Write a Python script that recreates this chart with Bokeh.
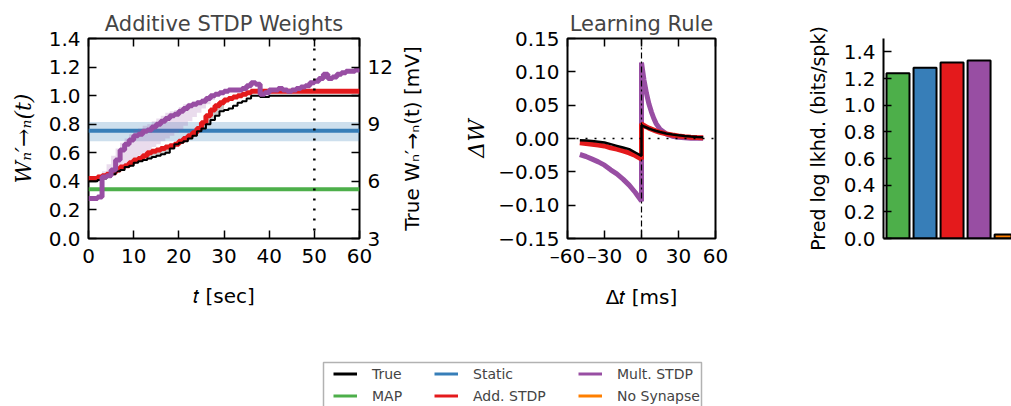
import math
from bokeh.plotting import figure
from bokeh.layouts import row, column
from bokeh.models import (Range1d, LinearAxis, FixedTicker, CustomJSTickFormatter,
                          NumeralTickFormatter, Legend, LegendItem, Span, BoxAnnotation, Title)
from bokeh.embed import file_html
from bokeh.resources import INLINE

# ---------------- data ----------------
# Left panel: weight traces over time (seconds)
t_sec = list(range(0, 61))
w_true = [0.40, 0.40, 0.41, 0.42, 0.43, 0.45, 0.47, 0.48, 0.50, 0.51,
          0.53, 0.54, 0.55, 0.56, 0.57, 0.58, 0.59, 0.60, 0.63, 0.66,
          0.67, 0.68, 0.70, 0.72, 0.75, 0.77, 0.80, 0.83, 0.86, 0.89,
          0.90, 0.91, 0.93, 0.95, 0.96, 0.98, 1.00, 1.00, 0.99, 0.99,
          1.00, 1.00, 1.00, 1.00, 1.00, 1.00, 1.00, 1.00, 1.00, 1.00,
          1.00, 1.00, 1.00, 1.00, 1.00, 1.00, 1.00, 1.00, 1.00, 1.00, 1.00]
w_add = [0.42, 0.42, 0.43, 0.44, 0.45, 0.46, 0.48, 0.50, 0.51, 0.53,
         0.55, 0.56, 0.58, 0.60, 0.61, 0.62, 0.63, 0.64, 0.65, 0.66,
         0.68, 0.70, 0.72, 0.74, 0.77, 0.81, 0.86, 0.90, 0.93, 0.95,
         0.97, 0.98, 0.99, 1.00, 1.01, 1.02, 1.03, 1.03, 1.03, 1.03,
         1.03, 1.03, 1.03, 1.03, 1.03, 1.03, 1.03, 1.03, 1.03, 1.03,
         1.03, 1.03, 1.03, 1.03, 1.03, 1.03, 1.03, 1.03, 1.03, 1.03, 1.03]
w_mult = [0.28, 0.28, 0.29, 0.43, 0.44, 0.48, 0.55, 0.62, 0.66, 0.69,
          0.72, 0.73, 0.75, 0.76, 0.78, 0.80, 0.82, 0.84, 0.86, 0.87,
          0.89, 0.91, 0.93, 0.94, 0.95, 0.96, 0.98, 1.00, 1.01, 1.02,
          1.03, 1.04, 1.04, 1.04, 1.05, 1.07, 1.09, 1.08, 1.01, 1.02,
          1.04, 1.04, 1.05, 1.04, 1.03, 1.04, 1.05, 1.06, 1.07, 1.09,
          1.10, 1.12, 1.15, 1.12, 1.13, 1.15, 1.16, 1.17, 1.17, 1.18, 1.19]
# posterior bands
t_band_mult = list(range(2, 29))
mult_lo = [0.40, 0.42, 0.44, 0.46, 0.48, 0.50, 0.52, 0.54, 0.56, 0.58,
           0.60, 0.62, 0.64, 0.66, 0.68, 0.70, 0.72, 0.74, 0.76, 0.79,
           0.82, 0.85, 0.88, 0.91, 0.94, 0.97, 1.00]
mult_hi = [0.45, 0.47, 0.52, 0.58, 0.63, 0.67, 0.70, 0.73, 0.76, 0.77,
           0.79, 0.80, 0.82, 0.84, 0.86, 0.88, 0.89, 0.90, 0.92, 0.94,
           0.95, 0.96, 0.97, 0.98, 1.00, 1.01, 1.02]
t_band_add = list(range(12, 31))
add_lo = [0.55, 0.56, 0.57, 0.58, 0.59, 0.60, 0.63, 0.66, 0.67, 0.68,
          0.70, 0.72, 0.75, 0.77, 0.80, 0.83, 0.86, 0.89, 0.90]
add_hi = [0.58, 0.60, 0.61, 0.62, 0.63, 0.64, 0.65, 0.66, 0.68, 0.70,
          0.72, 0.74, 0.77, 0.81, 0.86, 0.90, 0.93, 0.95, 0.97]
t_static = [0, 60]
w_static = [0.755, 0.755]
static_lo = [0.68, 0.68]
static_hi = [0.815, 0.815]
w_map = [0.345, 0.345]
t_train_end = 50

t_ticks = [0, 10, 20, 30, 40, 50, 60]
w_ticks = [0.0, 0.2, 0.4, 0.6, 0.8, 1.0, 1.2, 1.4]
mv_ticks = [3, 6, 9, 12]
mv_minor = [4.5, 7.5, 10.5, 13.5]

# Middle panel: learning rule (ms)
dt_ms = [-50, -45, -40, -35, -30, -25, -20, -15, -10, -5, 0,
         0, 2, 4, 6, 8, 10, 12, 15, 20, 25, 30, 35, 40, 45, 50]
dw_true = [-0.0025, -0.0031, -0.0039, -0.0048, -0.006, -0.0085, -0.011, -0.0135, -0.016, -0.021, -0.026,
           0.020, 0.018, 0.0165, 0.015, 0.0137, 0.0123, 0.0112, 0.0097, 0.0076, 0.006, 0.0047, 0.0037, 0.0029, 0.0023, 0.0018]
dw_add = [-0.0065, -0.0075, -0.0085, -0.0097, -0.0112, -0.014, -0.0158, -0.0185, -0.0215, -0.0255, -0.031,
          0.022, 0.0195, 0.0175, 0.0155, 0.014, 0.0125, 0.011, 0.0093, 0.007, 0.0052, 0.0038, 0.0028, 0.002, 0.0014, 0.001]
dw_mult = [-0.024, -0.027, -0.031, -0.035, -0.040, -0.047, -0.053, -0.061, -0.070, -0.081, -0.094,
           0.114, 0.088, 0.068, 0.052, 0.040, 0.030, 0.022, 0.014, 0.007, 0.0035, 0.0018, 0.001, 0.0005, 0.0003, 0.0002]
dt_ticks = [-60, -30, 0, 30, 60]
dw_ticks = [-0.15, -0.10, -0.05, 0.0, 0.05, 0.10, 0.15]

# Right panel: predictive log likelihood
models = ["MAP", "Static", "Add. STDP", "Mult. STDP", "No Synapse"]
pll = [1.24, 1.28, 1.32, 1.335, 0.03]
pll_ticks = [0.0, 0.2, 0.4, 0.6, 0.8, 1.0, 1.2, 1.4]

# Legend
leg_columns = [["True", "MAP"], ["Static", "Add. STDP"], ["Mult. STDP", "No Synapse"]]

# ---------------- style ----------------
FONT = "DejaVu Sans"
SERIF = "DejaVu Serif"
C_TRUE = "black"
C_MAP = "#4daf4a"
C_STATIC = "#377eb8"
C_ADD = "#e41a1c"
C_MULT = "#984ea3"
C_NONE = "#ff7f00"
COLORS = {"True": C_TRUE, "MAP": C_MAP, "Static": C_STATIC, "Add. STDP": C_ADD,
          "Mult. STDP": C_MULT, "No Synapse": C_NONE}
TICK_FS = "20px"
LABEL_FS = "20px"
H = 350


def style_axis(ax):
    ax.major_tick_in = 8
    ax.major_tick_out = 0
    ax.minor_tick_in = 0
    ax.minor_tick_out = 0
    ax.major_tick_line_width = 1.5
    ax.major_tick_line_color = "black"
    ax.axis_line_color = None
    ax.major_label_text_font = FONT
    ax.major_label_text_font_size = TICK_FS
    ax.major_label_text_color = "black"
    ax.major_label_standoff = 8
    ax.axis_label_text_font = FONT
    ax.axis_label_text_font_size = LABEL_FS
    ax.axis_label_text_font_style = "normal"
    ax.axis_label_text_color = "black"


def top_ticks(p, ticks):
    ax = LinearAxis(ticker=FixedTicker(ticks=ticks), formatter=CustomJSTickFormatter(code="return ''"))
    style_axis(ax)
    ax.major_label_standoff = 0
    ax.major_label_text_font_size = "0px"
    p.add_layout(ax, "above")


def base_fig(width, x_range, y_range, title, left, right, top, bottom):
    p = figure(width=width, height=H, x_range=x_range, y_range=y_range,
               output_backend="svg", toolbar_location=None,
               min_border_left=left, min_border_right=right,
               min_border_top=top, min_border_bottom=bottom)
    if title:
        p.title.text = title
        p.title.text_font = FONT
        p.title.text_font_size = "21px"
        p.title.text_font_style = "normal"
        p.title.align = "center"
        p.title.standoff = 5
    p.xgrid.grid_line_color = None
    p.ygrid.grid_line_color = None
    p.background_fill_color = "white"
    p.border_fill_color = "white"
    return p


def label_strip(width, left, text, font, size, style):
    """Narrow empty figure whose left-side title acts as a bottom-to-top axis title."""
    s = figure(width=width, height=H, x_range=Range1d(0, 1), y_range=Range1d(0, 1),
               output_backend="svg", toolbar_location=None, x_axis_type=None, y_axis_type=None,
               min_border_left=left, min_border_right=0, min_border_top=35, min_border_bottom=112)
    s.outline_line_color = None
    s.xgrid.grid_line_color = None
    s.ygrid.grid_line_color = None
    s.add_layout(Title(text=text, align="center", text_font=font, text_font_size=size,
                       text_font_style=style, text_color="black", standoff=4), "left")
    return s


# ---------------- left panel ----------------
p1 = base_fig(395, Range1d(0, 60), Range1d(0, 1.4), "Additive STDP Weights", 88, 32, 35, 112)
p1.outline_line_color = "black"
p1.outline_line_width = 2
p1.varea(x=t_static, y1=static_lo, y2=static_hi, fill_color=C_STATIC, fill_alpha=0.25)
p1.line(t_static, w_static, line_color=C_STATIC, line_width=4)
p1.line(t_static, w_map, line_color=C_MAP, line_width=4)
p1.varea_step(x=t_band_mult, y1=mult_lo, y2=mult_hi, step_mode="after", fill_color=C_MULT, fill_alpha=0.2)
p1.varea_step(x=t_band_add, y1=add_lo, y2=add_hi, step_mode="after", fill_color="#888888", fill_alpha=0.45)
p1.step(t_sec, w_add, mode="after", line_color=C_ADD, line_width=5)
p1.step(t_sec, w_true, mode="after", line_color=C_TRUE, line_width=2)
p1.step(t_sec, w_mult, mode="after", line_color=C_MULT, line_width=5)
p1.add_layout(Span(location=t_train_end, dimension="height", line_color="black",
                   line_width=2.5, line_dash="2 8"))

p1.xaxis.ticker = FixedTicker(ticks=t_ticks)
p1.xaxis.axis_label = "𝑡 [sec]"
p1.yaxis.ticker = FixedTicker(ticks=w_ticks)
p1.yaxis.formatter = NumeralTickFormatter(format="0.0")
p1.yaxis.axis_label = "Wₙ′→ₙ(t)"
for ax in p1.xaxis + p1.yaxis:
    style_axis(ax)
p1.xaxis.major_label_standoff = 10
p1.xaxis.axis_label_standoff = 18
p1.yaxis.axis_label_standoff = 10
p1.yaxis.axis_label_text_font = SERIF
p1.yaxis.axis_label_text_font_size = "22px"
p1.yaxis.axis_label_text_font_style = "italic"

p1.extra_y_ranges = {"mv": Range1d(3, 13.5)}
ax_r = LinearAxis(y_range_name="mv", ticker=FixedTicker(ticks=mv_ticks, minor_ticks=mv_minor))
style_axis(ax_r)
ax_r.minor_tick_in = 8
ax_r.minor_tick_line_width = 1.5
ax_r.minor_tick_line_color = "black"
p1.add_layout(ax_r, "right")
top_ticks(p1, t_ticks)

# right-hand axis title of the left panel (reads bottom-to-top)
p1b = label_strip(65, 28, "True Wₙ′→ₙ(t) [mV]", FONT, LABEL_FS, "normal")

# ---------------- middle panel ----------------
p2a = label_strip(30, 28, "ΔW", SERIF, "22px", "italic")
p2 = base_fig(290, Range1d(-60, 60), Range1d(-0.15, 0.15), "Learning Rule", 77, 65, 35, 112)
p2.outline_line_color = "black"
p2.outline_line_width = 2
p2.add_layout(Span(location=0, dimension="width", line_color="black", line_width=1.5, line_dash="2 7"))
p2.add_layout(Span(location=0, dimension="height", line_color="black", line_width=1.2, line_dash="6 3 2 3"))
p2.line(dt_ms, dw_mult, line_color=C_MULT, line_width=5)
p2.line(dt_ms, dw_add, line_color=C_ADD, line_width=5)
p2.line(dt_ms, dw_true, line_color=C_TRUE, line_width=2.5)
p2.xaxis.ticker = FixedTicker(ticks=dt_ticks)
p2.xaxis.formatter = CustomJSTickFormatter(
    code="return (tick < 0 ? '\\u2013' : '') + Math.abs(tick).toFixed(0);")
p2.xaxis.axis_label = "Δ𝑡 [ms]"
p2.yaxis.ticker = FixedTicker(ticks=dw_ticks)
p2.yaxis.formatter = CustomJSTickFormatter(
    code="return (tick < 0 ? '\\u2212' : '') + Math.abs(tick).toFixed(2);")
for ax in p2.xaxis + p2.yaxis:
    style_axis(ax)
p2.xaxis.major_label_standoff = 5
p2.xaxis.axis_label_standoff = 14
top_ticks(p2, dt_ticks)

# ---------------- right panel ----------------
p3 = base_fig(231, Range1d(-0.537, 4.2), Range1d(0, 1.5), None, 103, 0, 38, 109)
p3.outline_line_color = None
p3.vbar(x=list(range(len(models))), top=pll, width=0.85, bottom=0,
        fill_color=[COLORS[m] for m in models], line_color="black", line_width=2)
p3.yaxis.ticker = FixedTicker(ticks=pll_ticks)
p3.yaxis.formatter = NumeralTickFormatter(format="0.0")
p3.yaxis.axis_label = "Pred log lkhd. (bits/spk)"
style_axis(p3.yaxis[0])
p3.yaxis.axis_label_text_font_size = "19px"
p3.yaxis.axis_line_color = "black"
p3.yaxis.axis_line_width = 2
p3.yaxis.axis_label_standoff = 12
p3.xaxis.ticker = FixedTicker(ticks=[])
p3.xaxis.axis_line_color = "black"
p3.xaxis.axis_line_width = 2
p3.xaxis.major_tick_line_color = None
p3.xaxis.minor_tick_line_color = None
p3.xaxis.formatter = CustomJSTickFormatter(code="return ''")

# ---------------- legend ----------------
p4 = figure(width=1011, height=56, x_range=Range1d(0, 1), y_range=Range1d(0, 1),
            output_backend="svg", toolbar_location=None, x_axis_type=None, y_axis_type=None,
            min_border=0, min_border_left=0, min_border_right=0, min_border_top=0, min_border_bottom=0)
p4.outline_line_color = None
p4.xgrid.grid_line_color = None
p4.ygrid.grid_line_color = None
p4.add_layout(BoxAnnotation(left=323, right=701, bottom=-10, top=44,
                            left_units="screen", right_units="screen",
                            top_units="screen", bottom_units="screen",
                            fill_color="white", fill_alpha=1, line_color="black", line_width=1.5))
col_x = [333, 434, 578]
for names, cx in zip(leg_columns, col_x):
    items = []
    for name in names:
        # single-point proxy renderer: draws nothing in the legend strip, only its legend swatch
        r = p4.line(x=[t_sec[0]], y=[w_true[0]], line_color=COLORS[name], line_width=3)
        items.append(LegendItem(label=name, renderers=[r]))
    lg = Legend(items=items, location=(cx, 2), border_line_color=None,
                background_fill_alpha=0,
                label_text_font=FONT, label_text_font_size="14px",
                glyph_width=24, glyph_height=17, label_height=17, label_standoff=15,
                spacing=5, padding=0, margin=0)
    p4.add_layout(lg)

layout = column(row(p1, p1b, p2a, p2, p3), p4)
open("out.html", "w").write(file_html(layout, INLINE))
